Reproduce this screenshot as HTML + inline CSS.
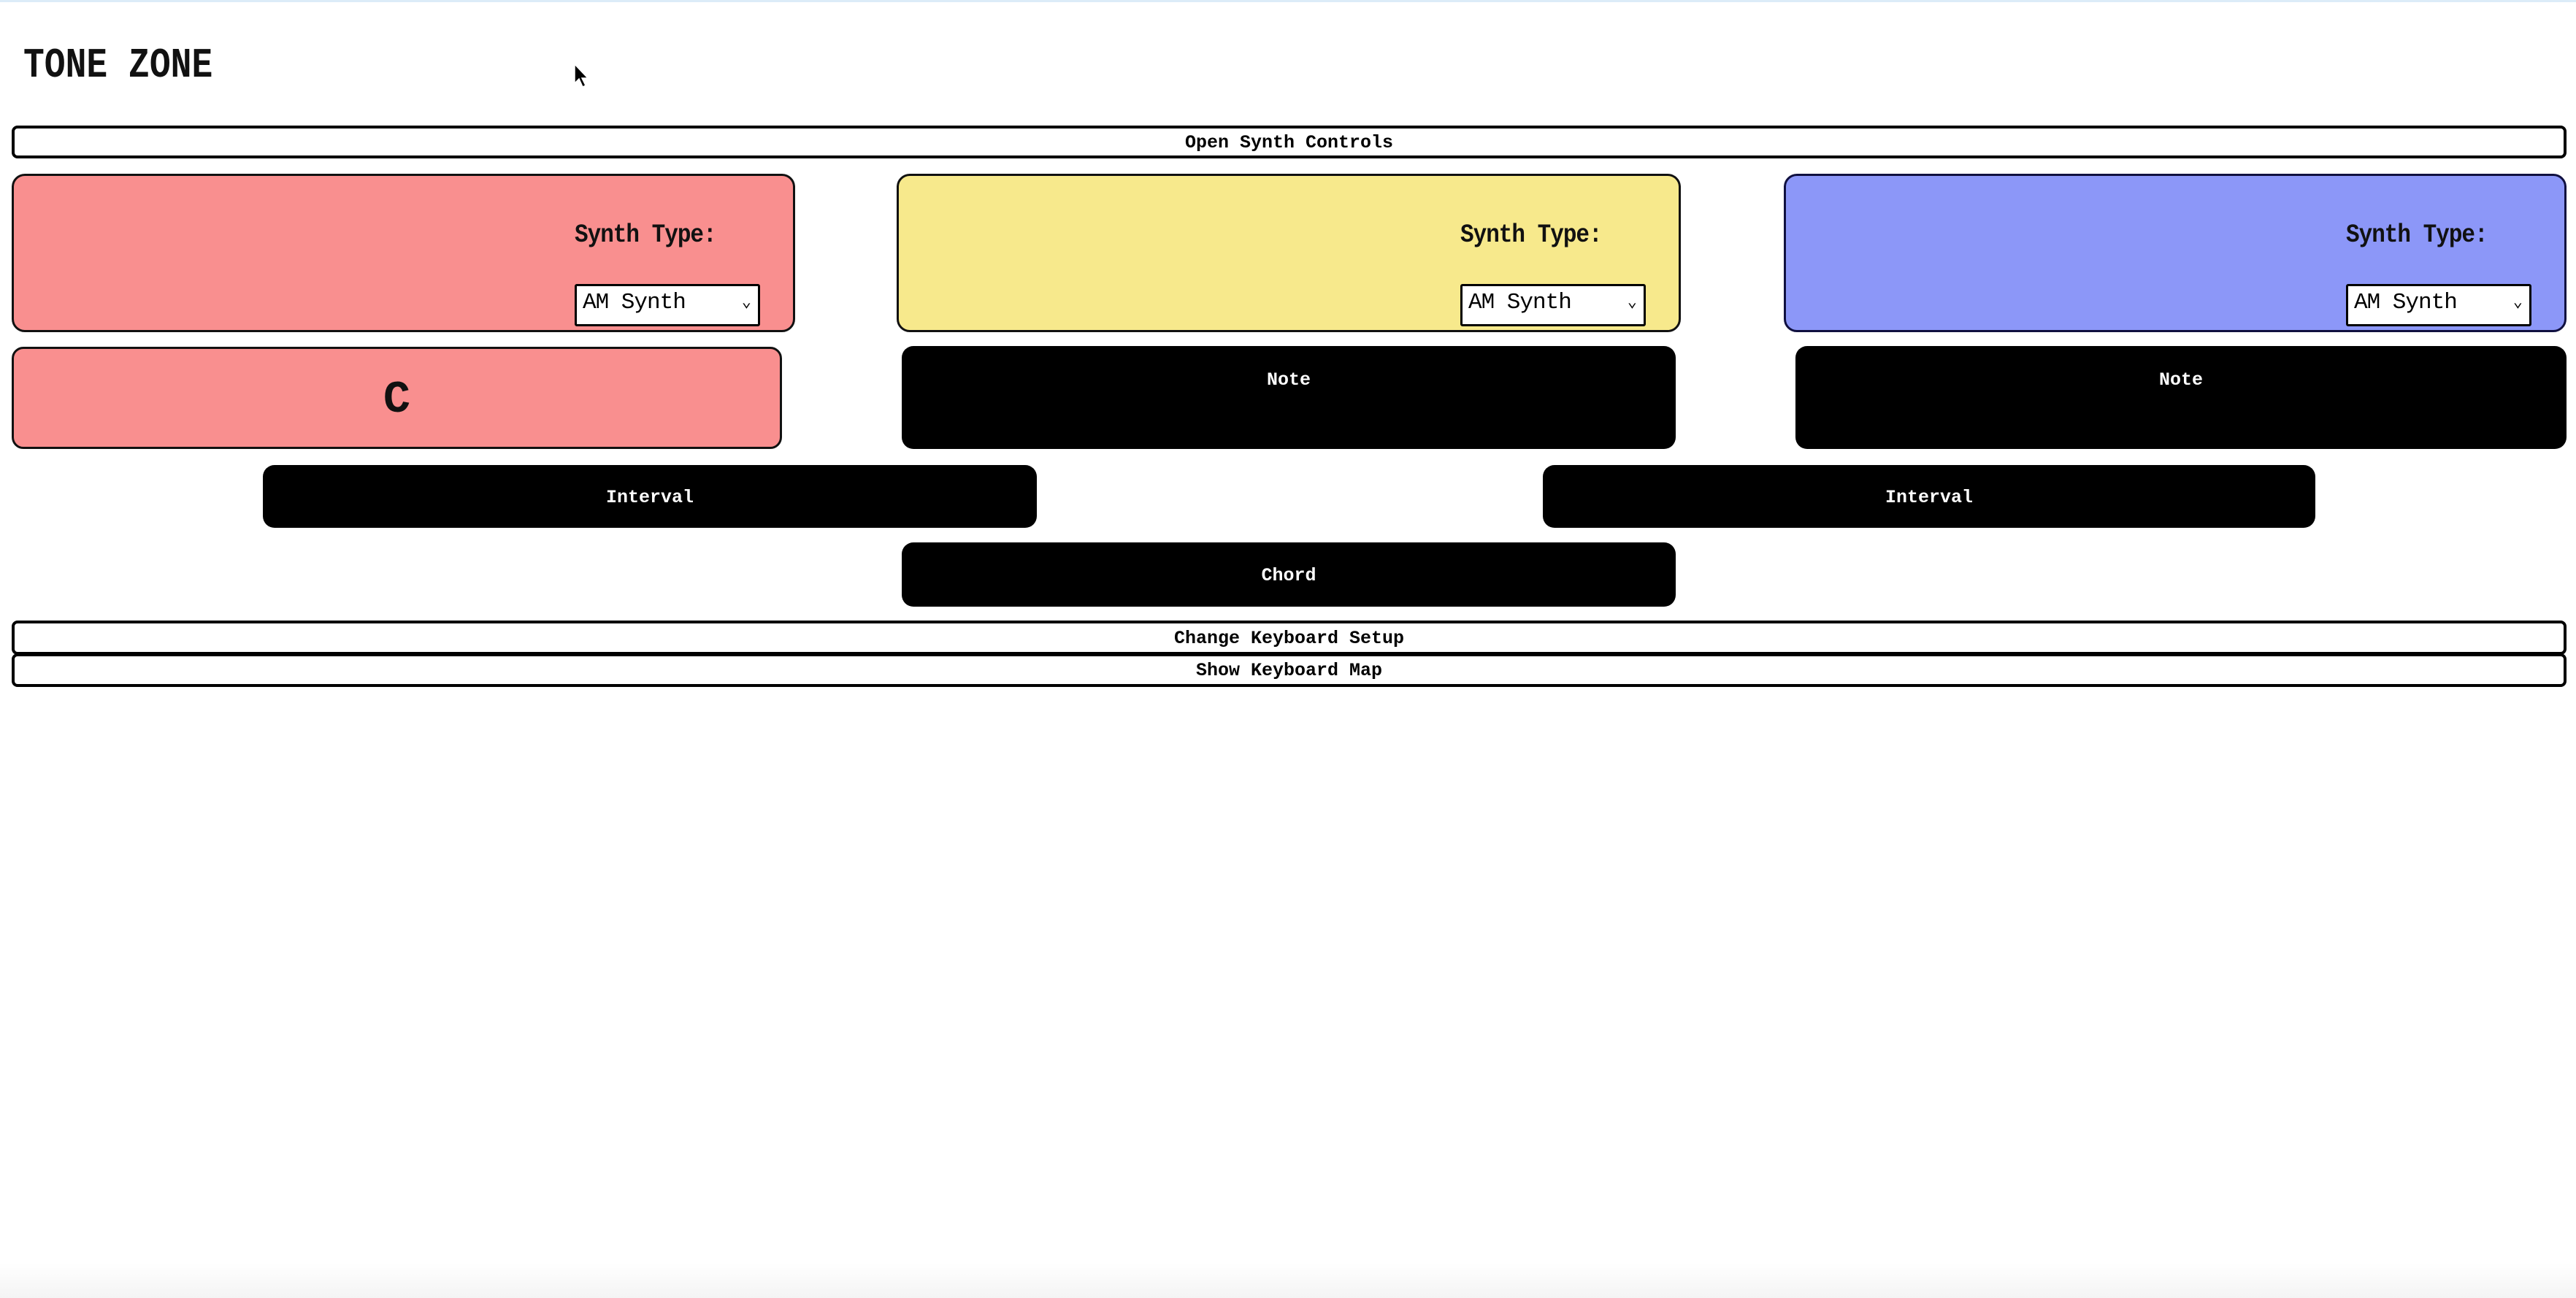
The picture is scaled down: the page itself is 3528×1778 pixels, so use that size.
<!DOCTYPE html>
<html><head><style>
html,body{margin:0;padding:0;width:3528px;height:1778px;background:#fff;overflow:hidden;position:relative;font-family:"Liberation Mono",monospace;}
.a{position:absolute;box-sizing:border-box;}
.bar{border:4px solid #000;border-radius:8px;background:#fff;text-align:center;font-size:25px;font-weight:bold;color:#000;}
.panel{border:3px solid #111;border-radius:18px;}
.lbl{position:absolute;font-size:31px;font-weight:bold;letter-spacing:-1px;color:#111;transform:scaleY(1.15);transform-origin:top left;}
.sel{position:absolute;background:#fff;border:3px solid #000;border-radius:3px;font-size:31px;color:#000;padding-left:8px;line-height:46px;letter-spacing:-1px;}
.sel span{position:absolute;right:10px;top:0;font-size:22px;}
.blk{background:#000;border-radius:16px;color:#fff;text-align:center;font-size:25px;font-weight:bold;}
</style></head><body>
<div class="a" style="left:0;top:0;width:3528px;height:3px;background:#dcecf8"></div>
<div class="a" style="left:32px;top:58px;font-size:48px;font-weight:bold;letter-spacing:0px;transform:scaleY(1.2);transform-origin:top left;color:#111">TONE ZONE</div>
<svg class="a" style="left:785px;top:86px" width="24" height="36" viewBox="0 0 24 36"><path d="M2 2 L2 28 L8 22 L13 33 L17 31 L12 21 L20 21 Z" fill="#000" stroke="#fff" stroke-width="1.5"/></svg>

<div class="a bar" style="left:16px;top:172px;width:3499px;height:45px;line-height:39px">Open Synth Controls</div>

<div class="a panel" style="left:16px;top:238px;width:1073px;height:217px;background:#f98f8f"></div>
<div class="lbl" style="left:787px;top:302px">Synth Type:</div>
<div class="sel" style="left:787px;top:389px;width:240px;height:52px">AM Synth<span>&#8964;</span></div>

<div class="a panel" style="left:1228px;top:238px;width:1074px;height:217px;background:#f7e98c"></div>
<div class="lbl" style="left:2000px;top:302px">Synth Type:</div>
<div class="sel" style="left:2000px;top:389px;width:240px;height:52px">AM Synth<span>&#8964;</span></div>

<div class="a panel" style="left:2443px;top:238px;width:1072px;height:217px;background:#8c97f8;border-color:#101040"></div>
<div class="lbl" style="left:3213px;top:302px">Synth Type:</div>
<div class="sel" style="left:3213px;top:389px;width:240px;height:52px">AM Synth<span>&#8964;</span></div>

<div class="a panel" style="left:16px;top:475px;width:1055px;height:140px;background:#f98f8f;border-radius:16px;text-align:center;font-size:62px;font-weight:bold;line-height:140px;color:#111">C</div>
<div class="a blk" style="left:1235px;top:474px;width:1060px;height:141px;padding-top:32px">Note</div>
<div class="a blk" style="left:2459px;top:474px;width:1056px;height:141px;padding-top:32px">Note</div>

<div class="a blk" style="left:360px;top:637px;width:1060px;height:86px;line-height:90px">Interval</div>
<div class="a blk" style="left:2113px;top:637px;width:1058px;height:86px;line-height:90px">Interval</div>
<div class="a blk" style="left:1235px;top:743px;width:1060px;height:88px;line-height:92px">Chord</div>

<div class="a bar" style="left:16px;top:850px;width:3499px;height:47px;line-height:41px">Change Keyboard Setup</div>
<div class="a bar" style="left:16px;top:895px;width:3499px;height:46px;line-height:40px">Show Keyboard Map</div>

<div class="a" style="left:0;top:1730px;width:3528px;height:48px;background:linear-gradient(#fff,#f4f4f4)"></div>
</body></html>
